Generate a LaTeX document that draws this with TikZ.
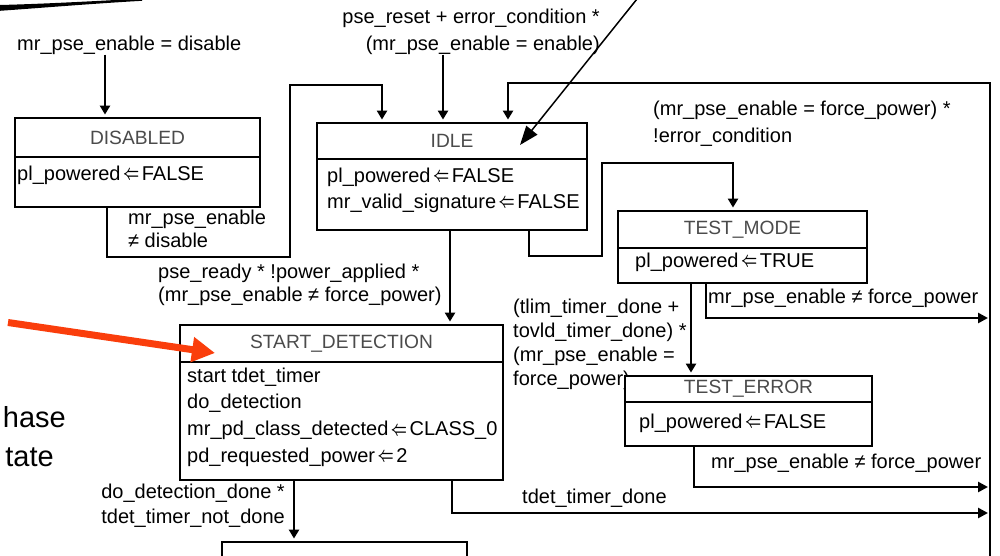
\documentclass[tikz,border=0pt]{standalone}
\usepackage{fontspec}
\setmainfont{Liberation Sans}
\usepackage{graphicx}
\usetikzlibrary{arrows.meta}
\definecolor{callred}{RGB}{250,62,12}
\definecolor{hdgray}{RGB}{75,75,75}
\newcommand\lf[1]{\fontsize{20}{#1}\selectfont}
\newcommand\hf{\fontsize{19.2}{23}\selectfont}
\newcommand\la{\hspace{2.5pt}\raisebox{0.2pt}{\scalebox{0.68}[1.0]{$\boldsymbol{\Leftarrow}$}}\hspace{2.5pt}}
\usepackage{amsmath}
\newcommand\mkstate[7]{%
  \node[box, hd, minimum width={#3-#2}, minimum height={#5-#4}] (#1-h) at ({(#2+#3)/2},{(#4+#5)/2}) {#7};
  \node[box, minimum width={#3-#2}, minimum height={#6-#5}] (#1-b) at ({(#2+#3)/2},{(#5+#6)/2}) {};
}
\tikzset{
  box/.style={draw, line width=2.8pt, inner sep=0pt, fill=white},
  hd/.style={font=\hf, text=hdgray},
  tx/.style={font=\lf{25}, inner sep=0pt, anchor=west, align=left},
  wire/.style={line width=2.8pt},
  arr/.style={wire, -{Triangle[length=9pt,width=10pt]}, shorten >=2pt},
  rarr/.style={wire, -{Triangle[length=10pt,width=10pt]}},
}
\begin{document}
\begin{tikzpicture}[x=1pt,y=-1pt]
\path[use as bounding box] (0,0) rectangle (1000,556);
\clip (0,0) rectangle (1000,556);

% labels
\node[tx] (lDis) at (17,45) {mr\_pse\_enable = disable};
\node[tx, font=\lf{27}, anchor=east, align=right] (lReset) at (600,31.5) {pse\_reset + error\_condition *\\(mr\_pse\_enable = enable)};
\node[tx, font=\lf{23}] (lDisX) at (128,228.5) {mr\_pse\_enable\\≠ disable};
\node[tx, font=\lf{23}] (lReady) at (158,284.5) {pse\_ready * !power\_applied *\\(mr\_pse\_enable ≠ force\_power)};
\node[tx, font=\lf{27}] (lForce) at (653,123.5) {(mr\_pse\_enable = force\_power) *\\!error\_condition};
\node[tx] (lTMx) at (708,298) {mr\_pse\_enable ≠ force\_power};
\node[tx, font=\lf{24}] (lTE) at (513,344) {(tlim\_timer\_done +\\tovld\_timer\_done) *\\(mr\_pse\_enable =\\force\_power)};
\node[tx] (lTEx) at (711,463) {mr\_pse\_enable ≠ force\_power};
\node[tx] (lTdet) at (522,498) {tdet\_timer\_done};
\node[tx, font=\lf{25}, anchor=east, align=right] (lDone) at (285,505.5) {do\_detection\_done *\\tdet\_timer\_not\_done};

% states
\mkstate{dis}{15}{260}{118}{157}{207}{DISABLED}
\node[tx] (tDis) at (17,175) {pl\_powered\la FALSE};
\mkstate{idle}{317}{587}{123}{159}{230}{IDLE}
\node[tx, font=\lf{26}] (tIdle) at (327,190) {pl\_powered\la FALSE\\mr\_valid\_signature\la FALSE};
\mkstate{tm}{618}{867}{211}{248}{283}{TEST\_MODE}
\node[tx] (tTm) at (635,262) {pl\_powered\la TRUE};
\mkstate{te}{625}{872}{376}{402}{446}{TEST\_ERROR}
\node[tx] (tTe) at (639,423) {pl\_powered\la FALSE};
\mkstate{sd}{180}{503}{325}{362}{480}{START\_DETECTION}
\node[tx, font=\lf{26.67}] (tSd) at (187,417) {start tdet\_timer\\do\_detection\\mr\_pd\_class\_detected\la CLASS\_0\\pd\_requested\_power\la 2};
\node[box, minimum width=245, minimum height=60] (nx) at (344.5,572) {};

% free ends
\coordinate (railEnd) at (990,560);
\coordinate (e1) at (988,318);
\coordinate (e2) at (988,487);
\coordinate (e3) at (988,513);

% connectors
\draw[arr] (lDis.south -| 105,0) -- (dis-h.north -| 105,0);
\draw[arr] (dis-b.south -| 107,0) -- (107,257) -- (290,257) -- (290,85) -- (382,85) -- (idle-h.north -| 382,0);
\draw[arr] (lReset.south -| 443,0) -- (idle-h.north -| 443,0);
\draw[arr] (railEnd) -- (990,83) -- (508,83) -- (idle-h.north -| 508,0);
\draw[arr] (idle-b.south -| 529,0) -- (529,256) -- (602,256) -- (602,163) -- (733,163) -- (tm-h.north -| 733,0);
\draw[rarr] (tm-b.south -| 706,0) -- (706,318) -- (e1);
\draw[arr] (tm-b.south -| 691,0) -- (te-h.north -| 691,0);
\draw[rarr] (te-b.south -| 694,0) -- (694,487) -- (e2);
\draw[arr] (idle-b.south -| 450,0) -- (sd-h.north -| 450,0);
\draw[rarr] (sd-b.south -| 452,0) -- (452,513) -- (e3);
\draw[arr] (sd-b.south -| 294,0) -- (nx.north -| 294,0);

% slide overlay
\node[font=\fontsize{29}{34}\selectfont, anchor=base east, inner sep=0pt] (ph) at (66,427) {hase};
\node[font=\fontsize{29}{34}\selectfont, anchor=base east, inner sep=0pt] (st) at (54,466) {tate};
\coordinate (rTail) at (8,322.5);
\coordinate (rTip) at (215,353);
\coordinate (bTail) at (637,-1);
\coordinate (bTip) at (520,145);
\draw[callred, line width=7pt, -{Triangle[length=23pt,width=24pt]}] (rTail) -- (rTip);
\draw[line width=1.5pt, -{Triangle[length=19pt,width=14pt]}] (bTail) -- (bTip);
\fill (0,5) .. controls (40,4) and (90,1.5) .. (142,-1.5) -- (142,0.8) .. controls (90,3.8) and (40,8) .. (0,10.8) -- cycle;
\end{tikzpicture}
\end{document}
